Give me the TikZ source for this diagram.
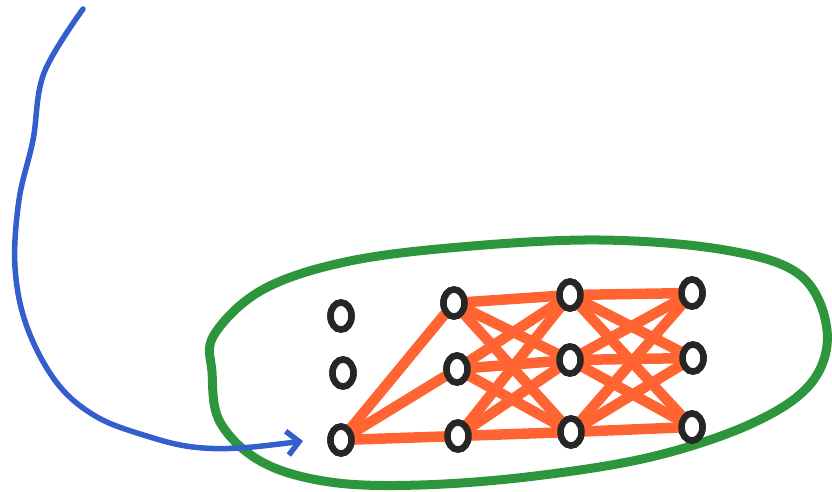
\documentclass[tikz,border=0pt]{standalone}
\usepackage{color}
\usepackage{tikz}
\usetikzlibrary{shapes.geometric,arrows.meta}
\definecolor{penblue}{RGB}{50,95,205}
\definecolor{pengreen}{RGB}{45,150,60}
\definecolor{penorange}{RGB}{255,100,50}

\begin{document}
\begin{tikzpicture}[x=1pt,y=-1pt,
  unit/.style={draw=black!85,line width=6.5pt,ellipse,fill=white,
    minimum width=21pt,minimum height=27pt,inner sep=0pt},
  wire/.style={draw=penorange,line width=10.5pt,line cap=round}]
\useasboundingbox (0,0) rectangle (832,491);

% the green loop
\draw[pengreen,line width=9pt,line join=round] plot[smooth cycle,tension=0.6] coordinates {
 (214,335) (262,290) (345,262) (460,247) (600,240) (725,250) (800,275)
 (827,330) (812,382) (755,422) (655,456) (535,476) (420,485) (330,482)
 (262,462) (220,422) (212,372)};

% units
\node[unit] (i1) at (341,316) {};
\node[unit] (i2) at (343,373) {};
\node[unit] (i3) at (341,440) {};
\node[unit] (h1) at (454,303) {};
\node[unit] (h2) at (457,369) {};
\node[unit] (h3) at (458,436) {};
\node[unit] (g1) at (570,295) {};
\node[unit] (g2) at (570,360) {};
\node[unit] (g3) at (571,432) {};
\node[unit] (o1) at (692,293) {};
\node[unit] (o2) at (693,358) {};
\node[unit] (o3) at (692,427) {};

\draw[wire] (i3) -- (h1);
\draw[wire] (i3) -- (h2);
\draw[wire] (i3) -- (h3);
\draw[wire] (h1) -- (g1); \draw[wire] (h1) -- (g2); \draw[wire] (h1) -- (g3);
\draw[wire] (h2) -- (g1); \draw[wire] (h2) -- (g2); \draw[wire] (h2) -- (g3);
\draw[wire] (h3) -- (g1); \draw[wire] (h3) -- (g2); \draw[wire] (h3) -- (g3);
\draw[wire] (g1) -- (o1); \draw[wire] (g1) -- (o2); \draw[wire] (g1) -- (o3);
\draw[wire] (g2) -- (o1); \draw[wire] (g2) -- (o2); \draw[wire] (g2) -- (o3);
\draw[wire] (g3) -- (o1); \draw[wire] (g3) -- (o2); \draw[wire] (g3) -- (o3);

% redraw units on top of the wires
\foreach \n in {i1,i2,i3,h1,h2,h3,g1,g2,g3,o1,o2,o3}
  \node[unit] at (\n) {};

% the blue arrow
\coordinate (start) at (83,9);
\coordinate (tip) at (303,441);
\draw[penblue,line width=5.5pt,line cap=round,
  -{Straight Barb[length=12pt,width=24pt,line width=5.5pt]}]
  plot[smooth,tension=0.6] coordinates {(start) (44,73) (33,140) (19,200)
  (15,267) (27,327) (57,383) (97,417) (150,437) (193,447) (240,448) (tip)};
\end{tikzpicture}
\end{document}
